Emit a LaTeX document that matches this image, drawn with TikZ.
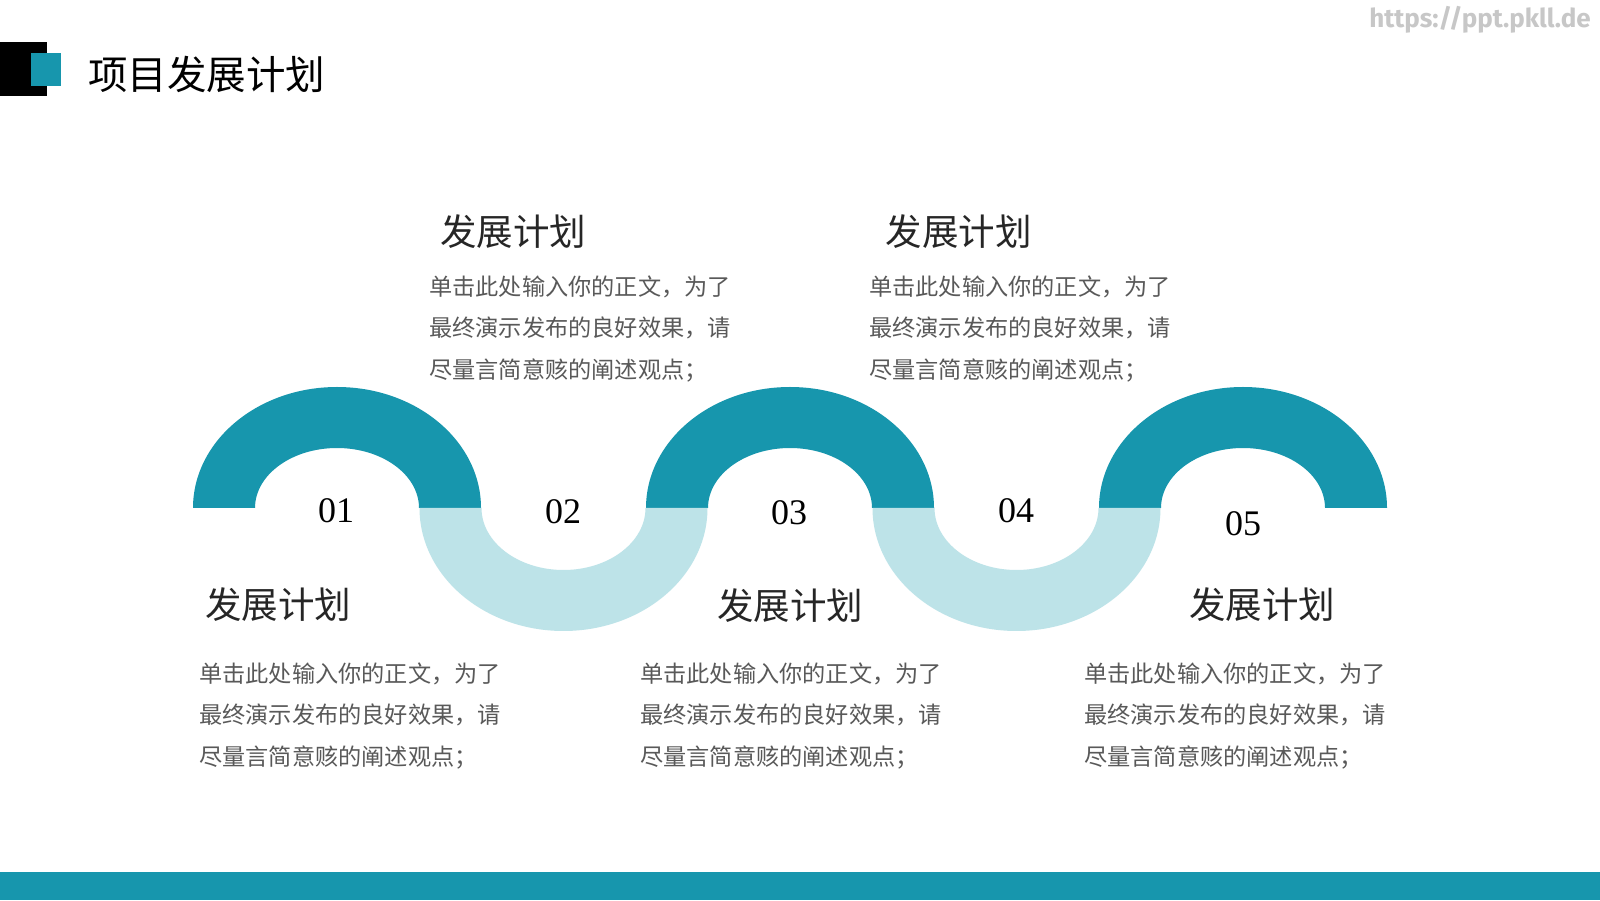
\documentclass[tikz,border=0pt]{standalone}
\usepackage{fontspec}
\setmainfont{Liberation Serif}
\newfontfamily\cjk{Noto Sans CJK SC}
\newfontfamily\wmfont{Fira Sans}
\definecolor{teal1}{HTML}{1796AD}
\definecolor{teal2}{HTML}{BDE3E8}
\definecolor{bodygray}{HTML}{595959}
\definecolor{headgray}{HTML}{262626}
\begin{document}
\begin{tikzpicture}[x=1pt,y=1pt,
  num/.style={font=\fontsize{36}{36}\selectfont, text=black, inner sep=0pt},
  heading/.style={font=\cjk\fontsize{36.5}{36.5}\selectfont, text=headgray, inner sep=0pt},
  bodytext/.style={font=\cjk\fontsize{23.2}{41.8}\selectfont, text=bodygray, align=left, anchor=west, inner sep=0pt}]
\useasboundingbox (0,0) rectangle (1600,900);
\fill[white] (0,0) rectangle (1600,900);
% logo
\fill[black] (0,804) rectangle (47,858);
\fill[teal1] (31,814) rectangle (61,847);
\node[font=\cjk\fontsize{39.5}{39.5}\selectfont, anchor=west, inner sep=0pt] (title) at (88,825.5) {项目发展计划};
\node[font=\wmfont\bfseries\fontsize{26}{26}\selectfont, text=black!22, anchor=east, inner sep=0pt] (wm) at (1591,880) {https://ppt.pkll.de};
% bottom bar
\fill[teal1] (0,0) rectangle (1600,28);
% upper arcs (dark)
\foreach \cx in {337,790,1243}{
  \fill[teal1] (\cx-144,392) arc[start angle=180,end angle=0,x radius=144pt,y radius=121pt]
    -- (\cx+82,392) arc[start angle=0,end angle=180,x radius=82pt,y radius=60pt] -- cycle;
}
% lower arcs (light)
\foreach \cx in {563.5,1016.5}{
  \fill[teal2] (\cx-144,392) arc[start angle=180,end angle=360,x radius=144pt,y radius=123pt]
    -- (\cx+82,392) arc[start angle=360,end angle=180,x radius=82pt,y radius=62pt] -- cycle;
}
% numbers
\node[num] (n1) at (336,389) {01};
\node[num] (n2) at (563,388) {02};
\node[num] (n3) at (789,387) {03};
\node[num] (n4) at (1016,389) {04};
\node[num] (n5) at (1243,376) {05};
% headings
\node[heading] (h2) at (513,668) {发展计划};
\node[heading] (h4) at (958.5,668) {发展计划};
\node[heading] (h1) at (278,295) {发展计划};
\node[heading] (h3) at (790,294) {发展计划};
\node[heading] (h5) at (1262,295) {发展计划};
% body texts
\node[bodytext] (b2) at (429,571) {单击此处输入你的正文，为了\\最终演示发布的良好效果，请\\尽量言简意赅的阐述观点；};
\node[bodytext] (b4) at (869,571) {单击此处输入你的正文，为了\\最终演示发布的良好效果，请\\尽量言简意赅的阐述观点；};
\node[bodytext] (b1) at (199,184) {单击此处输入你的正文，为了\\最终演示发布的良好效果，请\\尽量言简意赅的阐述观点；};
\node[bodytext] (b3) at (640,184) {单击此处输入你的正文，为了\\最终演示发布的良好效果，请\\尽量言简意赅的阐述观点；};
\node[bodytext] (b5) at (1084,184) {单击此处输入你的正文，为了\\最终演示发布的良好效果，请\\尽量言简意赅的阐述观点；};
\end{tikzpicture}
\end{document}
